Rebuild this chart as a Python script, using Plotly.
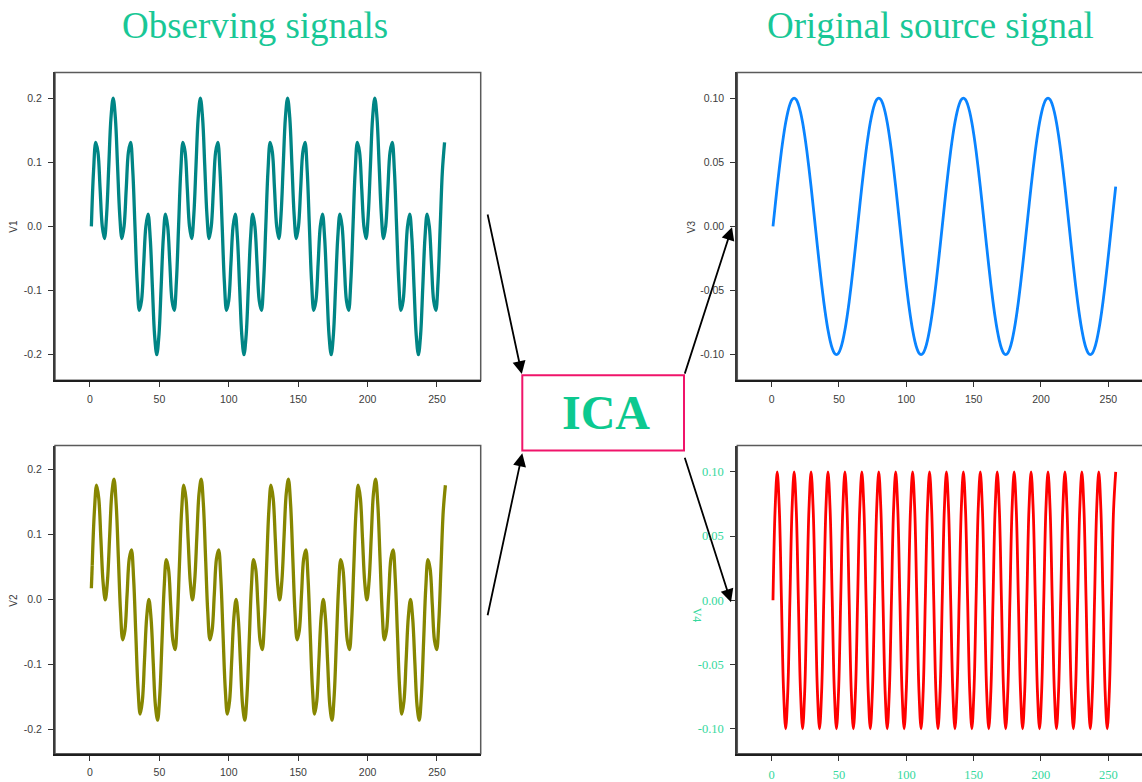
import plotly.graph_objects as go

W = 1142
FIG_H = 782

# ---------------------------------------------------------------------------
# Signals, stored on a uniform grid of sample positions (sample index units)
# ---------------------------------------------------------------------------
GRID_START = 1.0
GRID_STEP = 1.5708          # index spacing between stored samples
V2_GRID_START = 1.6         # V2 is stored on the same spacing, offset by 0.6

# source 1 (slow)
V3 = [
    0.0, 0.0156, 0.0309, 0.0454, 0.0588, 0.0707, 0.0809, 0.0891, 0.0951, 0.0988,
    0.1, 0.0988, 0.0951, 0.0891, 0.0809, 0.0707, 0.0588, 0.0454, 0.0309, 0.0156,
    0.0, -0.0156, -0.0309, -0.0454, -0.0588, -0.0707, -0.0809, -0.0891, -0.0951, -0.0988,
    -0.1, -0.0988, -0.0951, -0.0891, -0.0809, -0.0707, -0.0588, -0.0454, -0.0309, -0.0156,
    0.0, 0.0156, 0.0309, 0.0454, 0.0588, 0.0707, 0.0809, 0.0891, 0.0951, 0.0988,
    0.1, 0.0988, 0.0951, 0.0891, 0.0809, 0.0707, 0.0588, 0.0454, 0.0309, 0.0156,
    0.0, -0.0156, -0.0309, -0.0454, -0.0588, -0.0707, -0.0809, -0.0891, -0.0951, -0.0988,
    -0.1, -0.0988, -0.0951, -0.0891, -0.0809, -0.0707, -0.0588, -0.0454, -0.0309, -0.0156,
    0.0, 0.0156, 0.0309, 0.0454, 0.0588, 0.0707, 0.0809, 0.0891, 0.0951, 0.0988,
    0.1, 0.0988, 0.0951, 0.0891, 0.0809, 0.0707, 0.0588, 0.0454, 0.0309, 0.0156,
    0.0, -0.0156, -0.0309, -0.0454, -0.0588, -0.0707, -0.0809, -0.0891, -0.0951, -0.0988,
    -0.1, -0.0988, -0.0951, -0.0891, -0.0809, -0.0707, -0.0588, -0.0454, -0.0309, -0.0156,
    0.0, 0.0156, 0.0309, 0.0454, 0.0588, 0.0707, 0.0809, 0.0891, 0.0951, 0.0988,
    0.1, 0.0988, 0.0951, 0.0891, 0.0809, 0.0707, 0.0588, 0.0454, 0.0309, 0.0156,
    0.0, -0.0156, -0.0309, -0.0454, -0.0588, -0.0707, -0.0809, -0.0891, -0.0951, -0.0988,
    -0.1, -0.0988, -0.0951, -0.0891, -0.0809, -0.0707, -0.0588, -0.0454, -0.0309, -0.0156,
    0.0, 0.0156, 0.0309,
]

# source 2 (fast)
V4 = [
    0.0, 0.0707, 0.1, 0.0707, 0.0, -0.0707, -0.1, -0.0707, 0.0, 0.0707, 0.1, 0.0707, 0.0, -0.0707, -0.1, -0.0707,
    0.0, 0.0707, 0.1, 0.0707, 0.0, -0.0707, -0.1, -0.0707, 0.0, 0.0707, 0.1, 0.0707, 0.0, -0.0707, -0.1, -0.0707,
    0.0, 0.0707, 0.1, 0.0707, 0.0, -0.0707, -0.1, -0.0707, 0.0, 0.0707, 0.1, 0.0707, 0.0, -0.0707, -0.1, -0.0707,
    0.0, 0.0707, 0.1, 0.0707, 0.0, -0.0707, -0.1, -0.0707, 0.0, 0.0707, 0.1, 0.0707, 0.0, -0.0707, -0.1, -0.0707,
    0.0, 0.0707, 0.1, 0.0707, 0.0, -0.0707, -0.1, -0.0707, 0.0, 0.0707, 0.1, 0.0707, 0.0, -0.0707, -0.1, -0.0707,
    0.0, 0.0707, 0.1, 0.0707, 0.0, -0.0707, -0.1, -0.0707, 0.0, 0.0707, 0.1, 0.0707, 0.0, -0.0707, -0.1, -0.0707,
    0.0, 0.0707, 0.1, 0.0707, 0.0, -0.0707, -0.1, -0.0707, 0.0, 0.0707, 0.1, 0.0707, 0.0, -0.0707, -0.1, -0.0707,
    0.0, 0.0707, 0.1, 0.0707, 0.0, -0.0707, -0.1, -0.0707, 0.0, 0.0707, 0.1, 0.0707, 0.0, -0.0707, -0.1, -0.0707,
    0.0, 0.0707, 0.1, 0.0707, 0.0, -0.0707, -0.1, -0.0707, 0.0, 0.0707, 0.1, 0.0707, 0.0, -0.0707, -0.1, -0.0707,
    0.0, 0.0707, 0.1, 0.0707, 0.0, -0.0707, -0.1, -0.0707, 0.0, 0.0707, 0.1, 0.0707, 0.0, -0.0707, -0.1, -0.0707,
    0.0, 0.0707, 0.1,
]

# first observation
V1 = [
    0.0, 0.0863, 0.1309, 0.1161, 0.0588, 0.0, -0.0191, 0.0184, 0.0951, 0.1695,
    0.2, 0.1695, 0.0951, 0.0184, -0.0191, 0.0, 0.0588, 0.1161, 0.1309, 0.0863,
    0.0, -0.0863, -0.1309, -0.1161, -0.0588, 0.0, 0.0191, -0.0184, -0.0951, -0.1695,
    -0.2, -0.1695, -0.0951, -0.0184, 0.0191, 0.0, -0.0588, -0.1161, -0.1309, -0.0863,
    0.0, 0.0863, 0.1309, 0.1161, 0.0588, 0.0, -0.0191, 0.0184, 0.0951, 0.1695,
    0.2, 0.1695, 0.0951, 0.0184, -0.0191, 0.0, 0.0588, 0.1161, 0.1309, 0.0863,
    0.0, -0.0863, -0.1309, -0.1161, -0.0588, 0.0, 0.0191, -0.0184, -0.0951, -0.1695,
    -0.2, -0.1695, -0.0951, -0.0184, 0.0191, 0.0, -0.0588, -0.1161, -0.1309, -0.0863,
    0.0, 0.0863, 0.1309, 0.1161, 0.0588, 0.0, -0.0191, 0.0184, 0.0951, 0.1695,
    0.2, 0.1695, 0.0951, 0.0184, -0.0191, 0.0, 0.0588, 0.1161, 0.1309, 0.0863,
    0.0, -0.0863, -0.1309, -0.1161, -0.0588, 0.0, 0.0191, -0.0184, -0.0951, -0.1695,
    -0.2, -0.1695, -0.0951, -0.0184, 0.0191, 0.0, -0.0588, -0.1161, -0.1309, -0.0863,
    0.0, 0.0863, 0.1309, 0.1161, 0.0588, 0.0, -0.0191, 0.0184, 0.0951, 0.1695,
    0.2, 0.1695, 0.0951, 0.0184, -0.0191, 0.0, 0.0588, 0.1161, 0.1309, 0.0863,
    0.0, -0.0863, -0.1309, -0.1161, -0.0588, 0.0, 0.0191, -0.0184, -0.0951, -0.1695,
    -0.2, -0.1695, -0.0951, -0.0184, 0.0191, 0.0, -0.0588, -0.1161, -0.1309, -0.0863,
    0.0, 0.0863, 0.1309,
]

# second observation (first sample at index 1, then the offset grid)
V2_FIRST_X = [1.0, 1.6]
V2_FIRST = [0.0175, 0.0522]
V2 = [
    0.0522, 0.1356, 0.1760, 0.1560, 0.0924, 0.0265, -0.0003, 0.0290, 0.0972, 0.1631,
    0.1853, 0.1467, 0.0649, -0.0185, -0.0617, -0.0474, 0.0078, 0.0629, 0.0767, 0.0324,
    -0.0522, -0.1356, -0.1760, -0.1560, -0.0924, -0.0265, 0.0003, -0.0290, -0.0972, -0.1631,
    -0.1853, -0.1467, -0.0649, 0.0185, 0.0617, 0.0474, -0.0078, -0.0629, -0.0767, -0.0324,
    0.0522, 0.1356, 0.1760, 0.1560, 0.0924, 0.0265, -0.0003, 0.0290, 0.0972, 0.1631,
    0.1853, 0.1467, 0.0649, -0.0185, -0.0617, -0.0474, 0.0078, 0.0629, 0.0767, 0.0324,
    -0.0522, -0.1356, -0.1760, -0.1560, -0.0924, -0.0265, 0.0003, -0.0290, -0.0972, -0.1631,
    -0.1853, -0.1467, -0.0649, 0.0185, 0.0617, 0.0474, -0.0078, -0.0629, -0.0767, -0.0324,
    0.0522, 0.1356, 0.1760, 0.1560, 0.0924, 0.0265, -0.0003, 0.0290, 0.0972, 0.1631,
    0.1853, 0.1467, 0.0649, -0.0185, -0.0617, -0.0474, 0.0078, 0.0629, 0.0767, 0.0324,
    -0.0522, -0.1356, -0.1760, -0.1560, -0.0924, -0.0265, 0.0003, -0.0290, -0.0972, -0.1631,
    -0.1853, -0.1467, -0.0649, 0.0185, 0.0617, 0.0474, -0.0078, -0.0629, -0.0767, -0.0324,
    0.0522, 0.1356, 0.1760, 0.1560, 0.0924, 0.0265, -0.0003, 0.0290, 0.0972, 0.1631,
    0.1853, 0.1467, 0.0649, -0.0185, -0.0617, -0.0474, 0.0078, 0.0629, 0.0767, 0.0324,
    -0.0522, -0.1356, -0.1760, -0.1560, -0.0924, -0.0265, 0.0003, -0.0290, -0.0972, -0.1631,
    -0.1853, -0.1467, -0.0649, 0.0185, 0.0617, 0.0474, -0.0078, -0.0629, -0.0767, -0.0324,
    0.0522, 0.1356, 0.1760,
]

X_TICKS = [0, 50, 100, 150, 200, 250]
Y_TICKS_OBS = [-0.2, -0.1, 0.0, 0.1, 0.2]
Y_TICKS_SRC = [-0.10, -0.05, 0.00, 0.05, 0.10]

# ---------------------------------------------------------------------------
# Styling
# ---------------------------------------------------------------------------
GREEN = "#19C796"
GREEN_LIGHT = "#35D89D"
ICA_PINK = "#F0146A"
SANS = "Liberation Sans, Arial, sans-serif"
SERIF = "Liberation Serif, Times New Roman, serif"

C_V1 = "#008585"
C_V2 = "#868600"
C_V3 = "#0A84FF"
C_V4 = "#FF0000"


def px_x(p):
    return p / W


def px_y(p):
    return 1 - p / FIG_H


# panel frames (pixels)
LEFT_X = (55.0, 480.7)
RIGHT_X = (737.3, 1142.0)
TOP_Y = (72.7, 381.7)
BOT_Y = (447.3, 756.7)

fig = go.Figure()

line_common = dict(shape="spline", smoothing=1.0)
fig.add_trace(go.Scatter(y=V1, x0=GRID_START, dx=GRID_STEP, mode="lines",
                         line=dict(color=C_V1, width=3.3, **line_common),
                         xaxis="x", yaxis="y", hoverinfo="skip"))
fig.add_trace(go.Scatter(x=V2_FIRST_X, y=V2_FIRST, mode="lines",
                         line=dict(color=C_V2, width=3.3),
                         xaxis="x2", yaxis="y2", hoverinfo="skip"))
fig.add_trace(go.Scatter(y=V2, x0=V2_GRID_START, dx=GRID_STEP, mode="lines",
                         line=dict(color=C_V2, width=3.3, **line_common),
                         xaxis="x2", yaxis="y2", hoverinfo="skip"))
fig.add_trace(go.Scatter(y=V3, x0=GRID_START, dx=GRID_STEP, mode="lines",
                         line=dict(color=C_V3, width=2.8, **line_common),
                         xaxis="x3", yaxis="y3", hoverinfo="skip"))
fig.add_trace(go.Scatter(y=V4, x0=GRID_START, dx=GRID_STEP, mode="lines",
                         line=dict(color=C_V4, width=2.8, **line_common),
                         xaxis="x4", yaxis="y4", hoverinfo="skip"))


def xaxis(dom, rng, anchor, font):
    return dict(domain=[px_x(dom[0]), px_x(dom[1])], range=rng, anchor=anchor,
                tickmode="array", tickvals=X_TICKS, ticktext=[str(v) for v in X_TICKS],
                ticks="outside", ticklen=5, tickwidth=1, tickcolor="#333",
                showline=True, linecolor="#1e1e1e", linewidth=2,
                showgrid=False, zeroline=False, tickfont=font, ticklabelstandoff=3)


def yaxis(dom, rng, anchor, vals, fmt, font):
    return dict(domain=[px_y(dom[1]), px_y(dom[0])], range=rng, anchor=anchor,
                tickmode="array", tickvals=vals, ticktext=[format(v, fmt) for v in vals],
                ticks="outside", ticklen=5, tickwidth=1, tickcolor="#333",
                showline=True, linecolor="#3a3a3a", linewidth=2,
                showgrid=False, zeroline=False, tickfont=font, ticklabelstandoff=4)


sans_font = dict(family=SANS, size=10.5, color="#3c3c3c")
serif_font = dict(family=SERIF, size=12.5, color=GREEN_LIGHT)

fig.update_layout(
    width=W, height=FIG_H, margin=dict(l=0, r=0, t=0, b=0),
    paper_bgcolor="white", plot_bgcolor="white", showlegend=False,
    xaxis=xaxis(LEFT_X, [-25.2, 281.5], "y", sans_font),
    yaxis=yaxis(TOP_Y, [-0.240, 0.240], "x", Y_TICKS_OBS, ".1f", sans_font),
    xaxis2=xaxis(LEFT_X, [-25.2, 281.5], "y2", sans_font),
    yaxis2=yaxis(BOT_Y, [-0.237, 0.237], "x2", Y_TICKS_OBS, ".1f", sans_font),
    xaxis3=xaxis(RIGHT_X, [-25.5, 275.0], "y3", sans_font),
    yaxis3=yaxis(TOP_Y, [-0.120, 0.120], "x3", Y_TICKS_SRC, ".2f", sans_font),
    xaxis4=xaxis(RIGHT_X, [-25.5, 275.0], "y4", serif_font),
    yaxis4=yaxis(BOT_Y, [-0.1195, 0.1205], "x4", Y_TICKS_SRC, ".2f", serif_font),
)

# thin frame around each panel (right-hand panels run past the page edge)
shapes = []
for xs in (LEFT_X, (RIGHT_X[0], RIGHT_X[1] + 12)):
    for ys in (TOP_Y, BOT_Y):
        shapes.append(dict(type="rect", xref="paper", yref="paper",
                           x0=px_x(xs[0]), x1=px_x(xs[1]), y0=px_y(ys[1]), y1=px_y(ys[0]),
                           line=dict(color="#5a5a5a", width=1.5), layer="below"))

# ICA box
ICA_BOX = (522.3, 376.7, 684.0, 452.3)
shapes.append(dict(type="rect", xref="paper", yref="paper",
                   x0=px_x(ICA_BOX[0]), x1=px_x(ICA_BOX[2]),
                   y0=px_y(ICA_BOX[3]), y1=px_y(ICA_BOX[1]),
                   line=dict(color=ICA_PINK, width=2)))
fig.update_layout(shapes=shapes)

annotations = []

# headings
annotations.append(dict(text="Observing signals", x=px_x(255), y=px_y(26), xref="paper", yref="paper",
                        showarrow=False, font=dict(family=SERIF, size=37, color=GREEN),
                        xanchor="center", yanchor="middle"))
annotations.append(dict(text="Original source signal", x=px_x(930.5), y=px_y(26), xref="paper", yref="paper",
                        showarrow=False, font=dict(family=SERIF, size=37, color=GREEN),
                        xanchor="center", yanchor="middle"))
annotations.append(dict(text="<b>ICA</b>", x=px_x(606), y=px_y(414), xref="paper", yref="paper",
                        showarrow=False, font=dict(family=SERIF, size=48, color="#0CC98F"),
                        xanchor="center", yanchor="middle"))

# axis titles
for label, xp, yp, ang, font in [
    ("V1", 13.5, 227.0, -90, dict(family=SANS, size=10, color="#3c3c3c")),
    ("V2", 13.5, 602.5, -90, dict(family=SANS, size=10, color="#3c3c3c")),
    ("V3", 691.5, 227.5, -90, dict(family=SANS, size=10, color="#3c3c3c")),
    ("V4", 697.0, 617.0, 90, dict(family=SERIF, size=12, color=GREEN_LIGHT)),
]:
    annotations.append(dict(text=label, x=px_x(xp), y=px_y(yp), xref="paper", yref="paper",
                            showarrow=False, textangle=ang, font=font,
                            xanchor="center", yanchor="middle"))

# arrows: (tail) -> (head), in page pixels
ARROWS = [
    ((487.3, 214.5), (521.8, 375.5)),
    ((487.3, 618.5), (522.3, 455.0)),
    ((684.3, 376.0), (732.0, 228.0)),
    ((684.3, 458.5), (731.0, 604.5)),
]
for (tx, ty), (hx, hy) in ARROWS:
    annotations.append(dict(text="", x=px_x(hx), y=px_y(hy), xref="paper", yref="paper",
                            ax=tx - hx, ay=ty - hy, axref="pixel", ayref="pixel",
                            showarrow=True, arrowhead=2, arrowsize=1.45, arrowwidth=1.8,
                            arrowcolor="#000000", standoff=0, startstandoff=0))

fig.update_layout(annotations=annotations)

fig.write_html("out.html")
